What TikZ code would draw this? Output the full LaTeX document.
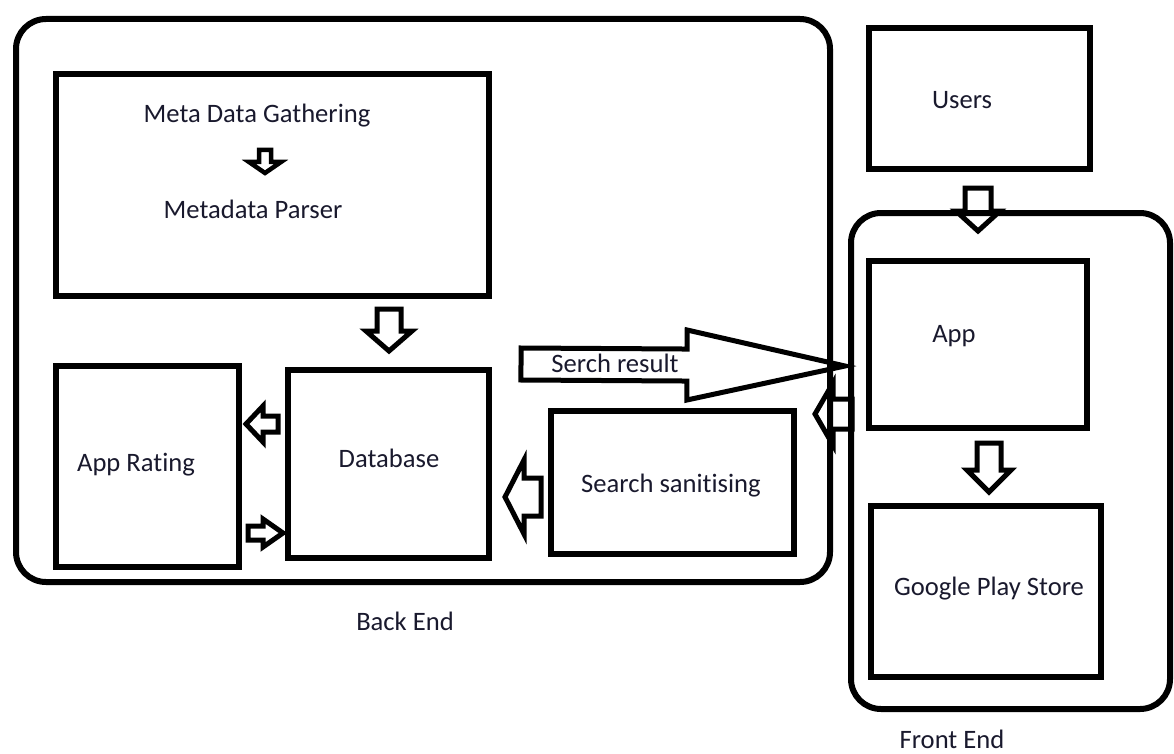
\documentclass[tikz,border=0pt]{standalone}
\usepackage{fontspec}
\setmainfont[Ligatures=NoCommon]{Carlito}
\usetikzlibrary{calc,positioning}

\definecolor{textdark}{RGB}{25,25,45}

% hollow block arrow: [opts]{tail}{tip}{half shaft}{half head}{head length}
\newcommand{\fatarrow}[6][]{%
  \coordinate (#2-hb) at ($(#3)!#6!(#2)$);
  \draw[fat,#1] ($(#2)!#4!90:(#3)$) -- ($(#2-hb)!#4!90:(#3)$)
    -- ($(#2-hb)!#5!90:(#3)$) -- (#3) -- ($(#2-hb)!#5!-90:(#3)$)
    -- ($(#2-hb)!#4!-90:(#3)$) -- ($(#2)!#4!-90:(#3)$) -- cycle;
}

\begin{document}
\begin{tikzpicture}[x=1pt,y=-1pt,
    box/.style={draw, line width=6pt, inner sep=0pt},
    group/.style={box, rounded corners=30pt},
    lbl/.style={text=textdark, font=\fontsize{26.6}{30}\selectfont, inner sep=0pt, yshift=-2pt},
    fat/.style={draw, line width=5pt, line join=miter}]
  \useasboundingbox (0,0) rectangle (1174,754);

  % back end
  \node[group, minimum width=814pt, minimum height=563pt] (back) at (423,300.5) {};
  \node[box, minimum width=433pt, minimum height=222pt] (meta) at (272.5,185) {};
  \node[box, minimum width=183pt, minimum height=201pt] (rating) at (147.5,466.5) {};
  \node[box, minimum width=201pt, minimum height=188pt] (db) at (388.5,464) {};
  \node[box, minimum width=243pt, minimum height=143pt] (sanit) at (672.5,482.5) {};

  \node[lbl] (gather) at (257,114) {Meta Data Gathering};
  \node[lbl] (parser) at (253,207) {Metadata Parser};
  \node[lbl] (rating-t) at (136,463) {App Rating};
  \node[lbl] (db-t) at (389,456) {Database};
  \node[lbl] (sanit-t) at (671,484) {Search sanitising};
  \node[lbl] (back-t) at (405,619) {Back End};

  % front end
  \node[box, minimum width=221pt, minimum height=141pt] (users) at (979.5,98.5) {};
  \node[box, minimum width=218pt, minimum height=167pt] (app) at (978,344.5) {};
  \node[box, minimum width=230pt, minimum height=171pt] (gplay) at (986,591.5) {};

  \node[lbl] (users-t) at (962,98) {Users};
  \node[lbl] (app-t) at (954,334) {App};
  \node[lbl] (gplay-t) at (989,587) {Google Play Store};
  \node[lbl] (front-t) at (952,737) {Front End};

  % arrow ends
  \coordinate (ga) at (265,150);   \coordinate (gb) at (265,173);
  \coordinate (ma) at (389,309);   \coordinate (mb) at (389,351);
  \coordinate (da) at (278,424);   \coordinate (db-b) at (246,424);
  \coordinate (ra) at (248,533);   \coordinate (rb) at (283,533);
  \coordinate (sa) at (541,497);   \coordinate (sb) at (505,497);
  \coordinate (qa) at (521,364);   \coordinate (qb) at (845,366);
  \coordinate (aa) at (852,414);   \coordinate (ab) at (815,414);
  \coordinate (ua) at (978,188);   \coordinate (ub) at (978,231);
  \coordinate (pa) at (989,443);   \coordinate (pb) at (989,492);

  \fatarrow[line width=4.5pt]{ga}{gb}{6pt}{16pt}{11pt}
  \fatarrow{ma}{mb}{12pt}{23pt}{20pt}
  \fatarrow{da}{db-b}{8pt}{18pt}{17pt}
  \fatarrow{ra}{rb}{7pt}{14pt}{20pt}
  \fatarrow{sa}{sb}{19pt}{37pt}{19pt}
  \fatarrow{qa}{qb}{16pt}{35pt}{158pt}
  \fatarrow{aa}{ab}{15pt}{31pt}{18pt}
  \fatarrow{ua}{ub}{13pt}{22pt}{20pt}
  \fatarrow{pa}{pb}{12pt}{22pt}{22pt}

  \node[lbl] (result-t) at (615,361) {Serch result};

  \node[group, minimum width=319pt, minimum height=496pt] (front) at (1010.5,461) {};
\end{tikzpicture}
\end{document}
